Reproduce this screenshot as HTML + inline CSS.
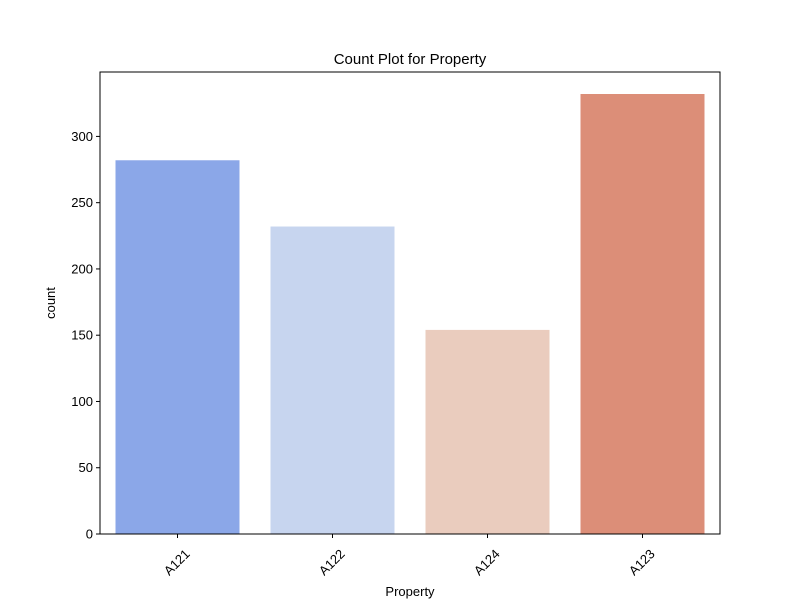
<!DOCTYPE html>
<html><head><meta charset="utf-8"><style>
body{margin:0;background:#fff}
svg{display:block;font-family:"Liberation Sans","DejaVu Sans",sans-serif}
</style></head><body>
<svg id="chart" width="800" height="600" xmlns="http://www.w3.org/2000/svg">
<rect width="800" height="600" fill="#fff"/>
<text x="410" y="64" text-anchor="middle" font-size="15">Count Plot for Property</text>
<g id="bars"></g>
<g id="yticks"></g>
<g id="xticks"></g>
<rect x="100" y="72" width="620" height="462" fill="none" stroke="#000" stroke-width="1"/>
<text x="410" y="596" text-anchor="middle" font-size="13">Property</text>
<text transform="translate(55,303) rotate(-90)" text-anchor="middle" font-size="13">count</text>
</svg>
<script>
const categories = ["A121","A122","A124","A123"];
const counts = [282, 232, 154, 332];
const yTickLabels = [0,50,100,150,200,250,300];
const colors = ["#8ba7e8","#c7d5ef","#eaccbe","#dc8e78"];
const NS="http://www.w3.org/2000/svg";
const L=100,R=720,T=72,B=534,yMax=348.6;
const y=v=>B-(B-T)*v/yMax;
const step=(R-L)/categories.length;
const xc=i=>L+step*(i+0.5);
const bw=step*0.8;
const bars=document.getElementById('bars'),yt=document.getElementById('yticks'),xt=document.getElementById('xticks');
function mk(tag,attrs,parent){const e=document.createElementNS(NS,tag);for(const k in attrs)e.setAttribute(k,attrs[k]);parent.appendChild(e);return e;}
counts.forEach((v,i)=>{
  const r=mk('rect',{x:xc(i)-bw/2,y:y(v),width:bw,height:B-y(v),fill:colors[i]},bars);
  
  
  const tk=mk('line',{x1:xc(i),x2:xc(i),y1:B,y2:B+4,stroke:'#000'},xt);
  
  
  const t=mk('text',{transform:`translate(${xc(i)},${B+29}) rotate(-45)`,'text-anchor':'middle','dominant-baseline':'middle','font-size':'13'},xt);
  t.textContent=categories[i];
  
  
});
yTickLabels.forEach(v=>{
  const tk=mk('line',{x1:L-4,x2:L,y1:y(v),y2:y(v),stroke:'#000'},yt);
  
  
  const t=mk('text',{x:L-7,y:y(v)+4.5,'text-anchor':'end','font-size':'13'},yt);
  t.textContent=v;
  
  
});
</script>
</body></html>
